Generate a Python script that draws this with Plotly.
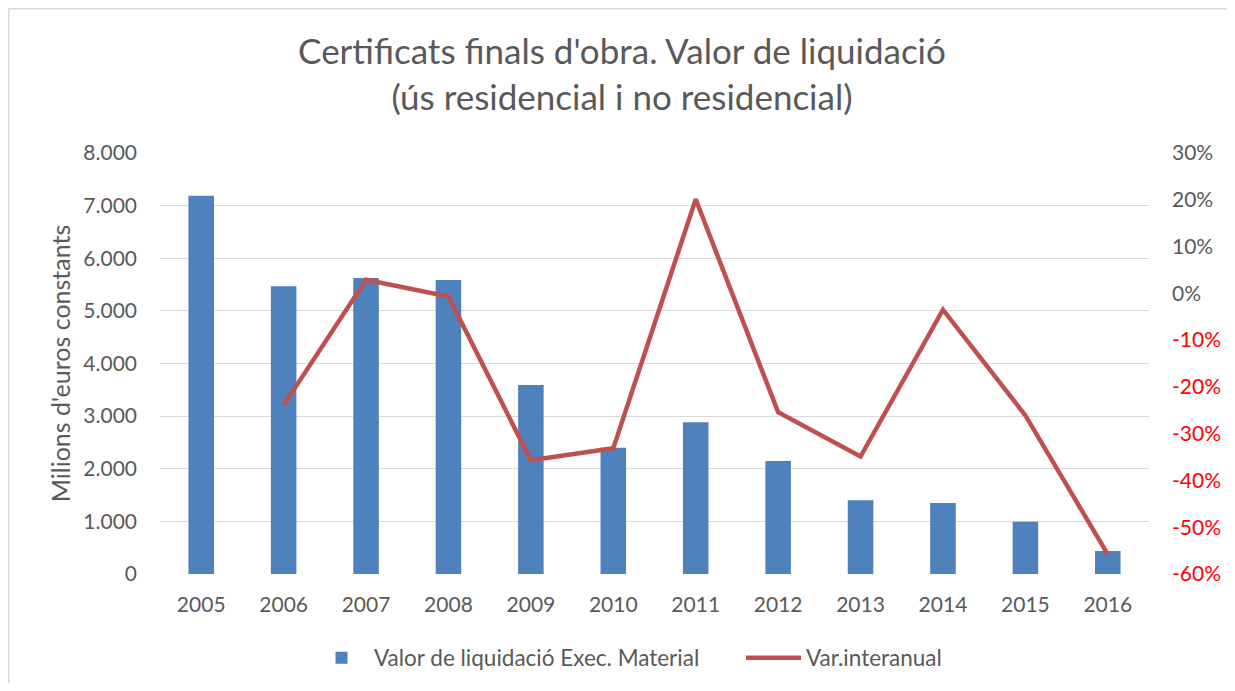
import plotly.graph_objects as go

years = ["2005", "2006", "2007", "2008", "2009", "2010", "2011", "2012", "2013", "2014", "2015", "2016"]
valor = [7186, 5468, 5627, 5589, 3593, 2400, 2884, 2148, 1400, 1350, 995, 437]
var_interanual = [None, -0.239, 0.029, -0.007, -0.357, -0.331, 0.201, -0.254, -0.349, -0.035, -0.261, -0.558]

left_ticks = [0, 1000, 2000, 3000, 4000, 5000, 6000, 7000, 8000]
right_ticks = [-0.6, -0.5, -0.4, -0.3, -0.2, -0.1, 0.0, 0.1, 0.2, 0.3]
right_ticktext = []
for v in right_ticks:
    pct = int(round(v * 100))
    if pct < 0:
        right_ticktext.append(f"<span style='color:#FF0000'>-{abs(pct)}%</span>")
    else:
        right_ticktext.append(f"{pct}%")

GRAY = "#595959"
FONT = "Lato, Carlito, Calibri, sans-serif"

W, H = 1219, 675
L, R, T, B = 152, 78, 145, 109
PW, PH = W - L - R, H - T - B


def px_x(x):
    return (x - L) / PW


def px_y(y):
    return (T + PH - y) / PH


fig = go.Figure()
fig.add_trace(go.Bar(
    x=years, y=valor, name="Valor de liquidació Exec. Material",
    marker=dict(color="#4F81BD", line=dict(width=0)), width=0.31,
))
fig.add_trace(go.Scatter(
    x=years, y=var_interanual, name="Var.interanual", yaxis="y2",
    mode="lines", line=dict(color="#C0504D", width=4.5), connectgaps=False,
))

border = dict(color="#D9D9D9", width=1.5)

fig.update_layout(
    width=W, height=H,
    margin=dict(l=L, r=R, t=T, b=B, autoexpand=False),
    paper_bgcolor="white", plot_bgcolor="white",
    separators=",.",
    font=dict(family=FONT, size=21, color=GRAY),
    title=dict(
        text="Certificats finals d'obra. Valor de liquidació<br>(ús residencial i no residencial)",
        x=614 / W, xanchor="center", xref="container",
        y=1 - 56 / H, yanchor="middle", yref="container",
        font=dict(family=FONT, size=35, color=GRAY),
    ),
    xaxis=dict(
        showgrid=False, zeroline=False, showline=False,
        ticks="", ticklabelstandoff=16, tickfont=dict(size=21, color=GRAY),
    ),
    yaxis=dict(
        range=[0, 8000], tickvals=left_ticks, tickformat=",d",
        showgrid=True, gridcolor="#D9D9D9", gridwidth=1.3,
        zeroline=False, showline=False, ticks="",
        ticklabelstandoff=22, tickfont=dict(size=21, color=GRAY),
        title=dict(text="Milions d'euros constants", standoff=5,
                   font=dict(size=25, color=GRAY)),
    ),
    yaxis2=dict(
        range=[-0.6, 0.3], overlaying="y", side="right",
        tickvals=right_ticks, ticktext=right_ticktext,
        showgrid=False, zeroline=False, showline=False, ticks="",
        ticklabelstandoff=22, tickfont=dict(size=21, color=GRAY),
    ),
    legend=dict(
        orientation="h", xref="container", x=301 / W, xanchor="left",
        yref="container", y=1 - 650 / H, yanchor="middle",
        font=dict(size=22.5, color=GRAY), itemwidth=55, traceorder="normal",
        entrywidth=362, entrywidthmode="pixels",
    ),
    shapes=[
        dict(type="line", xref="paper", yref="paper",
             x0=px_x(0.75), x1=px_x(W + 20), y0=px_y(0.75), y1=px_y(0.75), line=border),
        dict(type="line", xref="paper", yref="paper",
             x0=px_x(0.75), x1=px_x(0.75), y0=px_y(0.75), y1=px_y(H + 20), line=border),
    ],
)

fig.write_html("out.html")
